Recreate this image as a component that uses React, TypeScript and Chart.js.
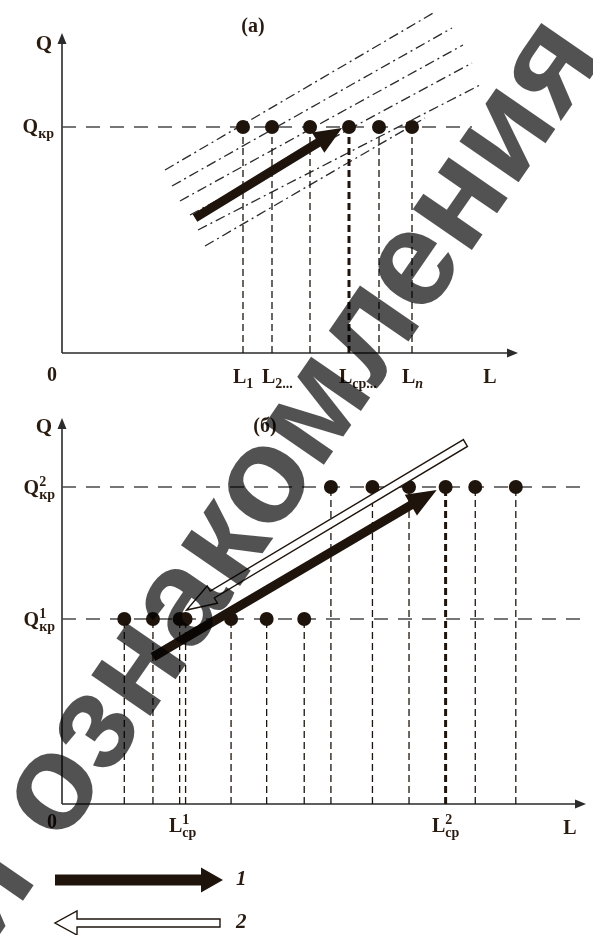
import React, { useEffect, useRef } from "react";
import { Chart, registerables } from "chart.js";
Chart.register(...registerables);

const INK = "#1e140c";
const TEXT = "#2a1b10";
const QLINE = "#4a4a4a";
const SERIF = "'Liberation Serif', 'DejaVu Serif', serif";
const FS = 20;

// ---------- Panel (a) ----------
const aXMax = 456;
const aYMax = 320;
const aQkp = 226;
const aQLineEnd = 410;
const aL = [181, 210, 248, 287, 317, 350];
const aLcp = 287;
const aArrow = [133, 135, 280, 225];
const aBandLines = [
  [103, 183, 373, 341],
  [110, 167, 390, 325],
  [118, 152, 401, 308],
  [128, 138, 410, 290],
  [136, 123, 418, 268],
  [143, 107, 363, 235],
];
const aTickValues = [181, 210, 287, 350];
const aTickSubs = ["1", "2...", "ср...", "n"];

// ---------- Panel (б) ----------
const bXMax = 530;
const bYMax = 386;
const bQ1 = 185;
const bQ2 = 317;
const bL1 = [63, 92, 119, 125, 171, 207, 245];
const bL2 = [272, 314, 351, 388, 418, 459];
const bLcp1 = 122;
const bLcp2 = 388;
const bArrow1 = [92, 147, 379, 314];
const bArrow2 = [408, 361, 126, 194];

// ---------- watermark ----------
const WM_TEXT = "ознакомления";
const WM_PREFIX = "Для ";
const WM_X = 55;
const WM_Y = 792;
const WM_ANGLE = (-55.4 * Math.PI) / 180;
const WM_SIZE = 136;

function arrowPath(ctx: CanvasRenderingContext2D, x1: number, y1: number, x2: number, y2: number, sw: number, hl: number, hw: number) {
  const dx = x2 - x1, dy = y2 - y1;
  const len = Math.hypot(dx, dy);
  const ux = dx / len, uy = dy / len;
  const nx = -uy, ny = ux;
  const bx = x2 - ux * hl, by = y2 - uy * hl;
  ctx.beginPath();
  ctx.moveTo(x1 + (nx * sw) / 2, y1 + (ny * sw) / 2);
  ctx.lineTo(bx + (nx * sw) / 2, by + (ny * sw) / 2);
  ctx.lineTo(bx + (nx * hw) / 2, by + (ny * hw) / 2);
  ctx.lineTo(x2, y2);
  ctx.lineTo(bx - (nx * hw) / 2, by - (ny * hw) / 2);
  ctx.lineTo(bx - (nx * sw) / 2, by - (ny * sw) / 2);
  ctx.lineTo(x1 - (nx * sw) / 2, y1 - (ny * sw) / 2);
  ctx.closePath();
}

function solidArrow(ctx: CanvasRenderingContext2D, x1: number, y1: number, x2: number, y2: number, sw: number, hl: number, hw: number) {
  ctx.save();
  arrowPath(ctx, x1, y1, x2, y2, sw, hl, hw);
  ctx.fillStyle = INK;
  ctx.fill();
  ctx.restore();
}

function hollowArrow(ctx: CanvasRenderingContext2D, x1: number, y1: number, x2: number, y2: number, sw: number, hl: number, hw: number) {
  ctx.save();
  arrowPath(ctx, x1, y1, x2, y2, sw, hl, hw);
  ctx.fillStyle = "#ffffff";
  ctx.fill();
  ctx.lineWidth = 1.4;
  ctx.strokeStyle = INK;
  ctx.lineJoin = "miter";
  ctx.stroke();
  ctx.restore();
}

function label(
  ctx: CanvasRenderingContext2D,
  x: number,
  y: number,
  main: string,
  sup: string,
  sub: string,
  align: "left" | "center" | "right",
  subItalic = false
) {
  ctx.save();
  ctx.fillStyle = TEXT;
  ctx.textBaseline = "alphabetic";
  ctx.textAlign = "left";
  const mainFont = `bold ${FS}px ${SERIF}`;
  const small = Math.round(FS * 0.68);
  const subFont = `${subItalic ? "italic " : ""}bold ${small}px ${SERIF}`;
  const supFont = `bold ${small}px ${SERIF}`;
  ctx.font = mainFont;
  const wm = ctx.measureText(main).width;
  ctx.font = supFont;
  const wsp = sup ? ctx.measureText(sup).width : 0;
  ctx.font = subFont;
  const wsb = sub ? ctx.measureText(sub).width : 0;
  const total = wm + Math.max(wsp, wsb);
  let x0 = x;
  if (align === "center") x0 = x - total / 2;
  if (align === "right") x0 = x - total;
  ctx.font = mainFont;
  ctx.fillText(main, x0, y);
  if (sup) {
    ctx.font = supFont;
    ctx.fillText(sup, x0 + wm, y - FS * 0.42);
  }
  if (sub) {
    ctx.font = subFont;
    ctx.fillText(sub, x0 + wm, y + FS * 0.25);
  }
  ctx.restore();
}

function centered(ctx: CanvasRenderingContext2D, text: string, x: number, y: number, font: string) {
  ctx.save();
  ctx.fillStyle = TEXT;
  ctx.font = font;
  ctx.textAlign = "center";
  ctx.textBaseline = "middle";
  ctx.fillText(text, x, y);
  ctx.restore();
}

function axes(ctx: CanvasRenderingContext2D, chart: any) {
  const { left, right, top, bottom } = chart.chartArea;
  ctx.save();
  ctx.strokeStyle = "#2b2b2b";
  ctx.fillStyle = "#2b2b2b";
  ctx.lineWidth = 1.6;
  ctx.beginPath();
  ctx.moveTo(left, bottom);
  ctx.lineTo(left, top + 8);
  ctx.moveTo(left, bottom);
  ctx.lineTo(right - 8, bottom);
  ctx.stroke();
  ctx.beginPath();
  ctx.moveTo(left, top);
  ctx.lineTo(left - 4.5, top + 11);
  ctx.lineTo(left + 4.5, top + 11);
  ctx.closePath();
  ctx.fill();
  ctx.beginPath();
  ctx.moveTo(right, bottom);
  ctx.lineTo(right - 11, bottom - 4.5);
  ctx.lineTo(right - 11, bottom + 4.5);
  ctx.closePath();
  ctx.fill();
  ctx.restore();
}

function watermark(ctx: CanvasRenderingContext2D, offY: number) {
  ctx.save();
  ctx.font = `bold ${WM_SIZE}px 'Liberation Sans', Arial, sans-serif`;
  ctx.fillStyle = "rgba(0,0,0,0.68)";
  const wO = ctx.measureText(WM_TEXT[0]).width;
  const xh = WM_SIZE * 0.52;
  ctx.translate(WM_X, WM_Y - offY);
  ctx.rotate(WM_ANGLE);
  ctx.textBaseline = "alphabetic";
  ctx.textAlign = "left";
  ctx.fillText(WM_TEXT, -wO / 2, xh / 2);
  ctx.textAlign = "right";
  ctx.fillText(WM_PREFIX, -wO / 2, xh / 2);
  ctx.restore();
}

const vDash = [7, 4];
const qDash = [14, 10];
const bandDash = [10, 4, 2, 4];

function vLine(x: number, yTop: number, thick = false) {
  return {
    data: [
      { x, y: 0 },
      { x, y: yTop },
    ],
    showLine: true,
    borderColor: INK,
    borderWidth: thick ? 3 : 1.3,
    borderDash: vDash,
    pointRadius: 0,
    clip: false as const,
  };
}

function hLine(y: number, x2: number) {
  return {
    data: [
      { x: 0, y },
      { x: x2, y },
    ],
    showLine: true,
    borderColor: QLINE,
    borderWidth: 1.5,
    borderDash: qDash,
    pointRadius: 0,
    clip: false as const,
  };
}

function dots(xs: number[], y: number) {
  return {
    data: xs.map((x) => ({ x, y })),
    showLine: false,
    pointRadius: 7,
    pointBackgroundColor: INK,
    pointBorderColor: INK,
    pointBorderWidth: 0,
    clip: false as const,
  };
}

function baseOptions(xMax: number, yMax: number, padding: any) {
  return {
    responsive: false,
    animation: false as const,
    events: [] as any[],
    layout: { padding },
    plugins: { legend: { display: false }, tooltip: { enabled: false } },
    scales: {
      x: { type: "linear" as const, min: 0, max: xMax, display: false },
      y: { type: "linear" as const, min: 0, max: yMax, display: false },
    },
  };
}

export default function App() {
  const topRef = useRef<HTMLCanvasElement>(null);
  const botRef = useRef<HTMLCanvasElement>(null);

  useEffect(() => {
    const topPlugin = {
      id: "panelA",
      beforeDatasetsDraw(chart: any) {
        axes(chart.ctx, chart);
      },
      afterDatasetsDraw(chart: any) {
        const ctx = chart.ctx as CanvasRenderingContext2D;
        const xs = chart.scales.x, ys = chart.scales.y;
        const px = (v: number) => xs.getPixelForValue(v);
        const py = (v: number) => ys.getPixelForValue(v);
        solidArrow(ctx, px(aArrow[0]), py(aArrow[1]), px(aArrow[2]), py(aArrow[3]), 9, 28, 24);
        const { left, top, bottom } = chart.chartArea;
        centered(ctx, "(a)", 253, 27, `bold ${FS}px ${SERIF}`);
        centered(ctx, "Q", left - 18, top + 12, `bold ${FS + 1}px ${SERIF}`);
        label(ctx, left - 8, py(aQkp) + 6, "Q", "", "кр", "right");
        centered(ctx, "0", left - 10, bottom + 23, `bold ${FS}px ${SERIF}`);
        aTickValues.forEach((v, i) => {
          label(ctx, px(v) - 10, bottom + 30, "L", "", aTickSubs[i], "left", aTickSubs[i] === "n");
        });
        label(ctx, px(aXMax) - 28, bottom + 30, "L", "", "", "center");
        watermark(ctx, 0);
      },
    };

    const botPlugin = {
      id: "panelB",
      beforeDatasetsDraw(chart: any) {
        axes(chart.ctx, chart);
      },
      afterDatasetsDraw(chart: any) {
        const ctx = chart.ctx as CanvasRenderingContext2D;
        const xs = chart.scales.x, ys = chart.scales.y;
        const px = (v: number) => xs.getPixelForValue(v);
        const py = (v: number) => ys.getPixelForValue(v);
        hollowArrow(ctx, px(bArrow2[0]), py(bArrow2[1]), px(bArrow2[2]), py(bArrow2[3]), 8, 30, 20);
        solidArrow(ctx, px(bArrow1[0]), py(bArrow1[1]), px(bArrow1[2]), py(bArrow1[3]), 9, 30, 24);
        const { left, top, bottom } = chart.chartArea;
        centered(ctx, "(б)", 265, 27, `bold ${FS}px ${SERIF}`);
        centered(ctx, "Q", left - 18, top + 10, `bold ${FS + 1}px ${SERIF}`);
        label(ctx, left - 7, py(bQ2) + 7, "Q", "2", "кр", "right");
        label(ctx, left - 7, py(bQ1) + 7, "Q", "1", "кр", "right");
        centered(ctx, "0", left - 10, bottom + 19, `bold ${FS}px ${SERIF}`);
        label(ctx, px(bLcp1), bottom + 28, "L", "1", "ср", "center");
        label(ctx, px(bLcp2), bottom + 28, "L", "2", "ср", "center");
        label(ctx, left + 508, bottom + 30, "L", "", "", "center");
        // legend
        const ly1 = bottom + 76;
        const ly2 = bottom + 119;
        solidArrow(ctx, left - 7, ly1, left + 161, ly1, 11, 22, 25);
        hollowArrow(ctx, left + 158, ly2, left - 7, ly2, 8, 22, 24);
        ctx.save();
        ctx.fillStyle = TEXT;
        ctx.font = `italic bold ${FS + 1}px ${SERIF}`;
        ctx.textBaseline = "middle";
        ctx.textAlign = "left";
        ctx.fillText("1", left + 174, ly1);
        ctx.fillText("2", left + 174, ly2);
        ctx.restore();
        watermark(ctx, 400);
      },
    };

    const topChart = new Chart(topRef.current as HTMLCanvasElement, {
      type: "scatter",
      data: {
        datasets: [
          dots(aL, aQkp),
          ...aL.map((x) => vLine(x, aQkp, x === aLcp)),
          hLine(aQkp, aQLineEnd),
          ...aBandLines.map((l) => ({
            data: [
              { x: l[0], y: l[1] },
              { x: l[2], y: l[3] },
            ],
            showLine: true,
            borderColor: "#2a2a2a",
            borderWidth: 1.3,
            borderDash: bandDash,
            pointRadius: 0,
            clip: false as const,
          })),
        ] as any,
      },
      options: baseOptions(aXMax, aYMax, { left: 62, right: 75, top: 33, bottom: 47 }) as any,
      plugins: [topPlugin],
    });

    const botChart = new Chart(botRef.current as HTMLCanvasElement, {
      type: "scatter",
      data: {
        datasets: [
          dots(bL1, bQ1),
          dots(bL2, bQ2),
          ...bL1.map((x) => vLine(x, bQ1)),
          ...bL2.map((x) => vLine(x, bQ2, x === bLcp2)),
          hLine(bQ1, bXMax),
          hLine(bQ2, bXMax),
        ] as any,
      },
      options: baseOptions(bXMax, bYMax, { left: 62, right: 1, top: 18, bottom: 131 }) as any,
      plugins: [botPlugin],
    });

    return () => {
      topChart.destroy();
      botChart.destroy();
    };
  }, []);

  return (
    <div style={{ position: "absolute", left: 0, top: 0, width: 593, height: 935, background: "#ffffff" }}>
      <canvas ref={topRef} width={593} height={400} style={{ position: "absolute", left: 0, top: 0 }} />
      <canvas ref={botRef} width={593} height={535} style={{ position: "absolute", left: 0, top: 400 }} />
    </div>
  );
}
